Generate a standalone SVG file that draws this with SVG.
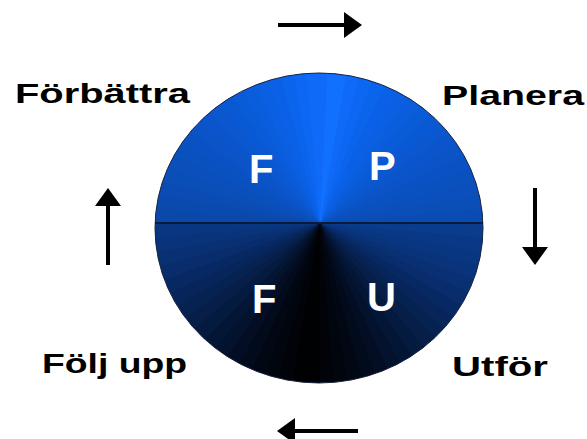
<svg xmlns="http://www.w3.org/2000/svg" xmlns:xlink="http://www.w3.org/1999/xlink" width="587" height="439" viewBox="0 0 587 439">
<style>
.lbl{font-family:"Liberation Sans",Arial,sans-serif;font-weight:bold;font-size:27px;fill:#000}
.ltr{font-family:"Liberation Sans",Arial,sans-serif;font-weight:bold;font-size:40px;fill:#fff}
.arr{stroke:#000;stroke-width:4;fill:none;marker-end:url(#ah)}
</style>
<defs>
<path id="w" d="M0,0 L0,-220 L29.8,-217.97 Z"/>
<clipPath id="cc"><ellipse cx="319" cy="228" rx="164" ry="155"/></clipPath>
<marker id="ah" viewBox="0 0 18 26" markerWidth="18" markerHeight="26" refX="0" refY="13" orient="auto" markerUnits="userSpaceOnUse">
<path d="M0,0 L18,13 L0,26 Z" fill="#000"/>
</marker>
</defs>
<rect width="587" height="439" fill="#fff"/>
<g id="cycle">
<g clip-path="url(#cc)">
<g transform="translate(320,223)" shape-rendering="crispEdges">
<use xlink:href="#w" transform="rotate(0)" fill="#1170fd"/>
<use xlink:href="#w" transform="rotate(5)" fill="#1170fd"/>
<use xlink:href="#w" transform="rotate(10)" fill="#0e6af7"/>
<use xlink:href="#w" transform="rotate(15)" fill="#0c67f2"/>
<use xlink:href="#w" transform="rotate(20)" fill="#0b64ec"/>
<use xlink:href="#w" transform="rotate(25)" fill="#0a61e7"/>
<use xlink:href="#w" transform="rotate(30)" fill="#0a5fe2"/>
<use xlink:href="#w" transform="rotate(35)" fill="#0a5ddd"/>
<use xlink:href="#w" transform="rotate(40)" fill="#0a5bd8"/>
<use xlink:href="#w" transform="rotate(45)" fill="#0a59d4"/>
<use xlink:href="#w" transform="rotate(50)" fill="#0a57cf"/>
<use xlink:href="#w" transform="rotate(55)" fill="#0a55cb"/>
<use xlink:href="#w" transform="rotate(60)" fill="#0a54c7"/>
<use xlink:href="#w" transform="rotate(65)" fill="#0a52c4"/>
<use xlink:href="#w" transform="rotate(70)" fill="#0a51c0"/>
<use xlink:href="#w" transform="rotate(75)" fill="#0a4fbc"/>
<use xlink:href="#w" transform="rotate(80)" fill="#0a4eb7"/>
<use xlink:href="#w" transform="rotate(85)" fill="#0a4cb3"/>
<use xlink:href="#w" transform="rotate(90)" fill="#0a3c8d"/>
<use xlink:href="#w" transform="rotate(95)" fill="#093986"/>
<use xlink:href="#w" transform="rotate(100)" fill="#093680"/>
<use xlink:href="#w" transform="rotate(105)" fill="#09337a"/>
<use xlink:href="#w" transform="rotate(110)" fill="#083073"/>
<use xlink:href="#w" transform="rotate(115)" fill="#082c6c"/>
<use xlink:href="#w" transform="rotate(120)" fill="#072963"/>
<use xlink:href="#w" transform="rotate(125)" fill="#07255a"/>
<use xlink:href="#w" transform="rotate(130)" fill="#062251"/>
<use xlink:href="#w" transform="rotate(135)" fill="#061e48"/>
<use xlink:href="#w" transform="rotate(140)" fill="#051a3f"/>
<use xlink:href="#w" transform="rotate(145)" fill="#041636"/>
<use xlink:href="#w" transform="rotate(150)" fill="#03122d"/>
<use xlink:href="#w" transform="rotate(155)" fill="#030e24"/>
<use xlink:href="#w" transform="rotate(160)" fill="#020b1c"/>
<use xlink:href="#w" transform="rotate(165)" fill="#010814"/>
<use xlink:href="#w" transform="rotate(170)" fill="#01050d"/>
<use xlink:href="#w" transform="rotate(175)" fill="#010308"/>
<use xlink:href="#w" transform="rotate(180)" fill="#000103"/>
<use xlink:href="#w" transform="rotate(185)" fill="#000103"/>
<use xlink:href="#w" transform="rotate(190)" fill="#010308"/>
<use xlink:href="#w" transform="rotate(195)" fill="#01050d"/>
<use xlink:href="#w" transform="rotate(200)" fill="#010814"/>
<use xlink:href="#w" transform="rotate(205)" fill="#020b1c"/>
<use xlink:href="#w" transform="rotate(210)" fill="#030e24"/>
<use xlink:href="#w" transform="rotate(215)" fill="#03122d"/>
<use xlink:href="#w" transform="rotate(220)" fill="#041636"/>
<use xlink:href="#w" transform="rotate(225)" fill="#051a3f"/>
<use xlink:href="#w" transform="rotate(230)" fill="#061e48"/>
<use xlink:href="#w" transform="rotate(235)" fill="#062251"/>
<use xlink:href="#w" transform="rotate(240)" fill="#07255a"/>
<use xlink:href="#w" transform="rotate(245)" fill="#072963"/>
<use xlink:href="#w" transform="rotate(250)" fill="#082c6c"/>
<use xlink:href="#w" transform="rotate(255)" fill="#083073"/>
<use xlink:href="#w" transform="rotate(260)" fill="#09337a"/>
<use xlink:href="#w" transform="rotate(265)" fill="#093680"/>
<use xlink:href="#w" transform="rotate(270)" fill="#0a49aa"/>
<use xlink:href="#w" transform="rotate(275)" fill="#0a4aaf"/>
<use xlink:href="#w" transform="rotate(280)" fill="#0a4cb3"/>
<use xlink:href="#w" transform="rotate(285)" fill="#0a4eb7"/>
<use xlink:href="#w" transform="rotate(290)" fill="#0a4fbc"/>
<use xlink:href="#w" transform="rotate(295)" fill="#0a51c0"/>
<use xlink:href="#w" transform="rotate(300)" fill="#0a52c4"/>
<use xlink:href="#w" transform="rotate(305)" fill="#0a54c7"/>
<use xlink:href="#w" transform="rotate(310)" fill="#0a55cb"/>
<use xlink:href="#w" transform="rotate(315)" fill="#0a57cf"/>
<use xlink:href="#w" transform="rotate(320)" fill="#0a59d4"/>
<use xlink:href="#w" transform="rotate(325)" fill="#0a5bd8"/>
<use xlink:href="#w" transform="rotate(330)" fill="#0a5ddd"/>
<use xlink:href="#w" transform="rotate(335)" fill="#0a5fe2"/>
<use xlink:href="#w" transform="rotate(340)" fill="#0a61e7"/>
<use xlink:href="#w" transform="rotate(345)" fill="#0b64ec"/>
<use xlink:href="#w" transform="rotate(350)" fill="#0c67f2"/>
<use xlink:href="#w" transform="rotate(355)" fill="#0e6af7"/>
</g>
</g>
<ellipse cx="319" cy="228" rx="164" ry="155" fill="none" stroke="#1a2440" stroke-width="1"/>
<line x1="155" y1="223" x2="483" y2="223" stroke="#0a1a3a" stroke-width="2"/>
<text class="ltr" x="249" y="183">F</text>
<text class="ltr" x="369" y="180">P</text>
<text class="ltr" x="252" y="313">F</text>
<text class="ltr" x="367" y="311">U</text>
</g>
<g id="forbattra"><text class="lbl" x="15" y="103" textLength="175" lengthAdjust="spacingAndGlyphs">Förbättra</text></g>
<g id="planera"><text class="lbl" x="442" y="105" textLength="142" lengthAdjust="spacingAndGlyphs">Planera</text></g>
<g id="utfor"><text class="lbl" x="452" y="376" textLength="96" lengthAdjust="spacingAndGlyphs">Utför</text></g>
<g id="folj-upp"><text class="lbl" x="42" y="373" textLength="145" lengthAdjust="spacingAndGlyphs">Följ upp</text></g>
<g id="connectors">
<line class="arr" x1="278" y1="25" x2="344" y2="25"/>
<line class="arr" x1="535" y1="188" x2="535" y2="247"/>
<line class="arr" x1="358" y1="431" x2="295" y2="431"/>
<line class="arr" x1="108" y1="265" x2="108" y2="206"/>
</g>
</svg>
